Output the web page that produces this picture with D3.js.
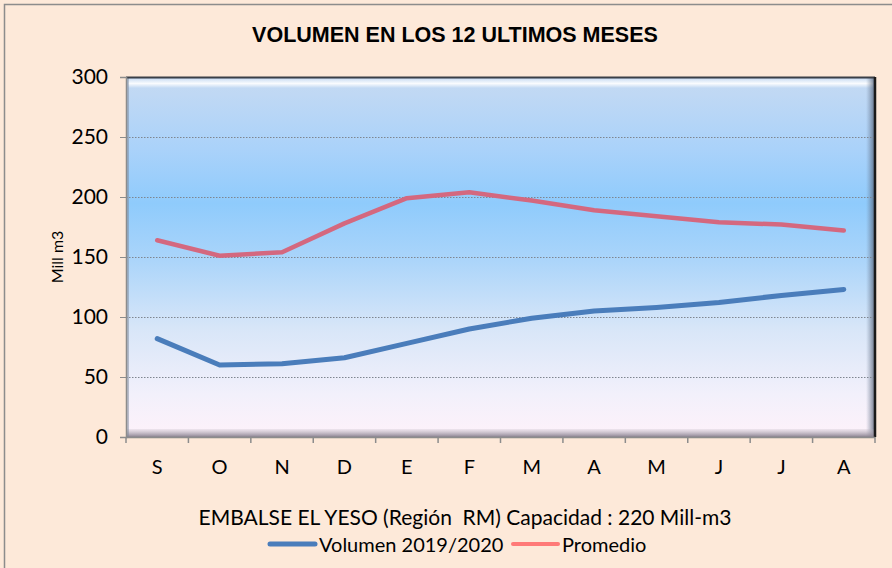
<!DOCTYPE html>
<html>
<head>
<meta charset="utf-8">
<script src="https://cdn.jsdelivr.net/npm/d3@7"></script>
<style>
body { margin: 0; background: #fde9d9; }
svg text { font-family: Lato, "Open Sans", sans-serif; fill: #000; }
</style>
</head>
<body>
<script>
const months = ["S", "O", "N", "D", "E", "F", "M", "A", "M", "J", "J", "A"];
const volumen = [82, 60, 61, 66, 78, 90, 99, 105, 108, 112, 118, 123];
const promedio = [164, 151, 154, 178, 199, 204, 197, 189, 184, 179, 177, 172];
const yTicks = [0, 50, 100, 150, 200, 250, 300];
const seriesNames = ["Volumen 2019/2020", "Promedio"];

const W = 892, H = 568;
const margin = { top: 77, right: 17, bottom: 131, left: 126 };
const w = W - margin.left - margin.right;
const h = H - margin.top - margin.bottom;

const svg = d3.select("body").append("svg").attr("width", W).attr("height", H);

// outer frame
svg.append("rect")
  .attr("x", 4.5).attr("y", 4.5)
  .attr("width", W).attr("height", H)
  .attr("fill", "#fde9d9").attr("stroke", "#8c8c8c").attr("stroke-width", 1.5);

const defs = svg.append("defs");
const grad = defs.append("linearGradient").attr("id", "bg").attr("x1", 0).attr("y1", 0).attr("x2", 0).attr("y2", 1);
[[0, "#c6daf2"], [0.2, "#aad2fa"], [0.35, "#8fcbfc"], [0.5, "#a9d4fa"], [0.7, "#d8e6f8"], [0.88, "#f2f0fb"], [1, "#fef2fa"]]
  .forEach(s => grad.append("stop").attr("offset", s[0]).attr("stop-color", s[1]));

const gR = defs.append("linearGradient").attr("id", "bevelR").attr("x1", 0).attr("x2", 1);
gR.append("stop").attr("offset", 0).attr("stop-color", "#6a7c96").attr("stop-opacity", 0);
gR.append("stop").attr("offset", 1).attr("stop-color", "#4a5568").attr("stop-opacity", 0.8);
const gB = defs.append("linearGradient").attr("id", "bevelB").attr("x1", 0).attr("y1", 0).attr("x2", 0).attr("y2", 1);
gB.append("stop").attr("offset", 0).attr("stop-color", "#b8b0bc").attr("stop-opacity", 0.2);
gB.append("stop").attr("offset", 1).attr("stop-color", "#8a8290").attr("stop-opacity", 1);
const gT = defs.append("linearGradient").attr("id", "bevelT").attr("x1", 0).attr("y1", 0).attr("x2", 0).attr("y2", 1);
gT.append("stop").attr("offset", 0).attr("stop-color", "#ffffff").attr("stop-opacity", 0.2);
gT.append("stop").attr("offset", 0.5).attr("stop-color", "#ffffff").attr("stop-opacity", 0.9);
gT.append("stop").attr("offset", 1).attr("stop-color", "#ffffff").attr("stop-opacity", 0);

const g = svg.append("g").attr("transform", "translate(" + margin.left + "," + margin.top + ")");

const x = d3.scaleBand().domain(d3.range(months.length)).range([0, w]);
const y = d3.scaleLinear().domain([0, 300]).range([h, 0]);

// plot area
g.append("rect").attr("width", w).attr("height", h).attr("fill", "url(#bg)");
g.append("rect").attr("x", 2).attr("y", 2).attr("width", w - 4).attr("height", 9).attr("fill", "url(#bevelT)");
g.append("rect").attr("x", w - 9).attr("y", 0).attr("width", 9).attr("height", h).attr("fill", "url(#bevelR)");
g.append("rect").attr("x", 0).attr("y", h - 8).attr("width", w).attr("height", 8).attr("fill", "url(#bevelB)");
g.append("rect").attr("x", 0).attr("y", 0).attr("width", 3).attr("height", h).attr("fill", "#7d8a9c").attr("opacity", 0.5);

// gridlines
g.append("g").selectAll("line")
  .data(yTicks.filter(d => d > 0 && d < 300))
  .join("line")
  .attr("x1", 0).attr("x2", w)
  .attr("y1", d => Math.round(y(d)) + 0.5).attr("y2", d => Math.round(y(d)) + 0.5)
  .attr("stroke", "#7f8690").attr("stroke-width", 1).attr("stroke-dasharray", "1.5,1.5");

// frame edges
g.append("line").attr("x1", 0).attr("x2", w).attr("y1", 0.5).attr("y2", 0.5).attr("stroke", "#3a3f47").attr("stroke-width", 2);
g.append("line").attr("x1", w).attr("x2", w).attr("y1", 0).attr("y2", h).attr("stroke", "#1a1a1a").attr("stroke-width", 2.5);

// y axis
const yAxis = g.append("g")
  .call(d3.axisLeft(y).tickValues(yTicks).tickSize(6).tickPadding(12));
yAxis.select(".domain").attr("stroke", "#8c8c8c").attr("stroke-width", 1.5);
yAxis.selectAll(".tick line").attr("stroke", "#8c8c8c");
yAxis.selectAll(".tick text").attr("font-size", 21).attr("font-family", "Lato");

// x axis
const xAxisG = g.append("g").attr("transform", "translate(0," + h + ")");
xAxisG.append("line").attr("x1", 0).attr("x2", w).attr("y1", 0.5).attr("y2", 0.5)
  .attr("stroke", "#8c8c8c").attr("stroke-width", 1.5);
xAxisG.selectAll(".xt")
  .data(d3.range(months.length + 1))
  .join("line")
  .attr("x1", d => d * x.step()).attr("x2", d => d * x.step())
  .attr("y1", 0).attr("y2", 6)
  .attr("stroke", "#8c8c8c").attr("stroke-width", 1.5);
xAxisG.selectAll(".xl")
  .data(months)
  .join("text")
  .attr("x", (d, i) => x(i) + x.bandwidth() / 2)
  .attr("y", 37)
  .attr("text-anchor", "middle")
  .attr("font-size", 20)
  .text(d => d);

// lines
const line = d3.line()
  .x((d, i) => x(i) + x.bandwidth() / 2)
  .y(d => y(d));

g.append("path").datum(promedio)
  .attr("fill", "none").attr("stroke", "#d4687f").attr("stroke-width", 4.5)
  .attr("stroke-linejoin", "round").attr("stroke-linecap", "round")
  .attr("d", line);
g.append("path").datum(volumen)
  .attr("fill", "none").attr("stroke", "#4a7dbb").attr("stroke-width", 5)
  .attr("stroke-linejoin", "round").attr("stroke-linecap", "round")
  .attr("d", line);

// title
svg.append("text")
  .attr("x", 455).attr("y", 42)
  .attr("text-anchor", "middle")
  .attr("font-weight", "bold").attr("font-size", 21.5)
  .style("font-family", "'Liberation Sans', Arial, sans-serif")
  .text("VOLUMEN EN LOS 12 ULTIMOS MESES");

// y label
svg.append("text")
  .attr("transform", "translate(63,257) rotate(-90)")
  .attr("text-anchor", "middle")
  .attr("font-size", 16)
  .text("Mill m3");

// x axis title
svg.append("text")
  .attr("x", 465).attr("y", 525)
  .attr("text-anchor", "middle")
  .attr("font-size", 21)
  .style("white-space", "pre")
  .text("EMBALSE EL YESO (Región  RM) Capacidad : 220 Mill-m3");

// legend
const legend = [
  { name: seriesNames[0], color: "#4a7dbb", x0: 270, width: 5 },
  { name: seriesNames[1], color: "#ff7a78", x0: 513, width: 4 }
];
const lg = svg.append("g").selectAll("g").data(legend).join("g");
lg.append("line")
  .attr("x1", d => d.x0).attr("x2", d => d.x0 + 45)
  .attr("y1", 544).attr("y2", 544)
  .attr("stroke", d => d.color).attr("stroke-width", d => d.width)
  .attr("stroke-linecap", "round");
lg.append("text")
  .attr("x", d => d.x0 + 49).attr("y", 552)
  .attr("font-size", 20)
  .text(d => d.name);
</script>
</body>
</html>
